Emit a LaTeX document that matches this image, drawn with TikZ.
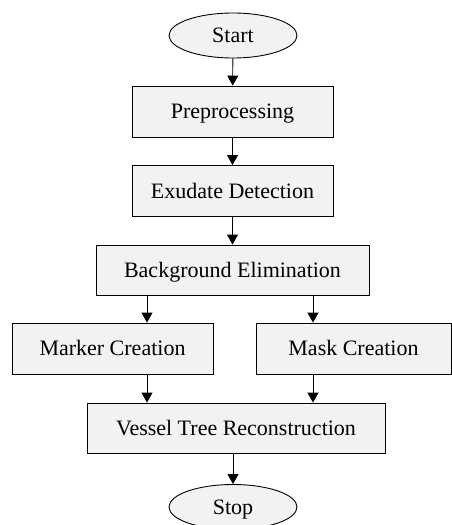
\documentclass[tikz,border=0pt]{standalone}
\usepackage{fontspec}
\setmainfont{Liberation Serif}
\usetikzlibrary{arrows.meta,shapes.geometric}
\definecolor{blockgray}{HTML}{F2F2F2}
\begin{document}
\begin{tikzpicture}[x=1pt, y=-1pt, line width=0.9pt, >={Triangle[length=10pt,width=11pt]}]

    \tikzset{block/.style={%
      draw,%
      rectangle,%
      fill=blockgray,%
      inner sep=0pt,%
      text height=15pt,%
      text depth=1pt,%
      minimum height=51pt,%
      font=\fontsize{22}{26}\selectfont}%
    };

    \tikzset{terminal/.style={block, ellipse, minimum width=128pt, minimum height=45pt}};

    \useasboundingbox (0,0) rectangle (452,525);

    %%%%%%%%%%%%%%%
    %   blocks    %
    %%%%%%%%%%%%%%%
    \node [terminal] (start) at (233,35.5) {Start};
    \node [block, minimum width=201pt] (pre) at (232.5,111.5) {Preprocessing};
    \node [block, minimum width=201pt] (exu) at (232.5,191) {Exudate Detection};
    \node [block, minimum width=273pt, minimum height=50pt] (bge) at (232.5,270) {Background Elimination};
    \node [block, minimum width=201pt] (mkr) at (112.5,348.5) {Marker Creation};
    \node [block, minimum width=195pt] (msk) at (353.5,348.5) {Mask Creation};
    \node [block, minimum width=298pt, minimum height=50pt] (vtr) at (236,428) {Vessel Tree Reconstruction};
    \node [terminal] (stop) at (233,507) {Stop};

    \coordinate (lft) at (147,0);
    \coordinate (rgt) at (313,0);

    %%%%%%%%%%%%%%%
    %   arrows    %
    %%%%%%%%%%%%%%%
    \draw [->] (start) -- (pre);
    \draw [->] (pre) -- (exu);
    \draw [->] (exu.south -| bge) -- (bge);
    \draw [->] (bge.south -| lft) -- (mkr.north -| lft);
    \draw [->] (bge.south -| rgt) -- (msk.north -| rgt);
    \draw [->] (mkr.south -| lft) -- (vtr.north -| lft);
    \draw [->] (msk.south -| rgt) -- (vtr.north -| rgt);
    \draw [->] (vtr.south -| stop) -- (stop);

\end{tikzpicture}
\end{document}
